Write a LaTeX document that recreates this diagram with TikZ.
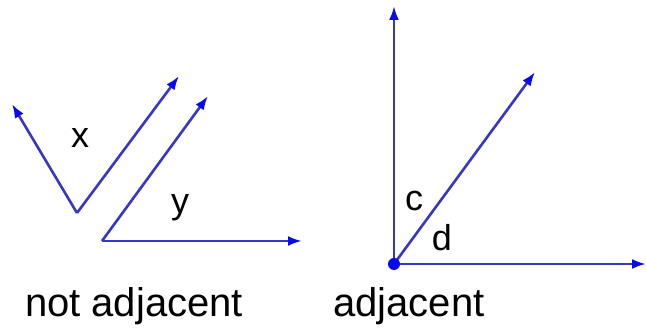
\documentclass[tikz,border=0pt]{standalone}
\usepackage{fontspec}
\setmainfont{Liberation Sans}
\usetikzlibrary{arrows.meta}
\definecolor{ray}{RGB}{55,55,195}
\definecolor{tip}{RGB}{10,10,240}
\tikzset{
  rayline/.style={draw=ray, line width=2.6pt, -{Latex[length=14pt,width=10pt,fill=tip,color=tip]}},
  lbl/.style={font=\fontsize{36}{36}\selectfont, inner sep=0pt, anchor=center},
  captxt/.style={font=\fontsize{40}{40}\selectfont, inner sep=0pt, anchor=base}
}
\begin{document}
\begin{tikzpicture}[x=1pt,y=-1pt]
\useasboundingbox (0,0) rectangle (646,328);
% not adjacent
\coordinate (v1) at (77,213);
\coordinate (a1) at (12,104);
\coordinate (b1) at (179,76);
\coordinate (v2) at (102,241);
\coordinate (a2) at (208,96);
\coordinate (b2) at (302,241);
\draw[rayline] (v1) -- (a1);
\draw[rayline] (v1) -- (b1);
\draw[rayline] (v2) -- (a2);
\draw[rayline] (v2) -- (b2);
\node[lbl] (x) at (80,138) {x};
\node[lbl] (y) at (180,208) {y};
% adjacent
\coordinate (v3) at (394,264);
\coordinate (a3) at (394,6);
\coordinate (b3) at (535,72);
\coordinate (c3) at (646,264);
\draw[rayline] (v3) -- (a3);
\draw[rayline] (v3) -- (b3);
\draw[rayline] (v3) -- (c3);
\fill[tip] (v3) circle (6pt);
\node[lbl] (c) at (414,201) {c};
\node[lbl] (d) at (442,238) {d};
% captions
\node[captxt] (na) at (134,317) {not adjacent};
\node[captxt] (ad) at (409,317) {adjacent};
\end{tikzpicture}
\end{document}
